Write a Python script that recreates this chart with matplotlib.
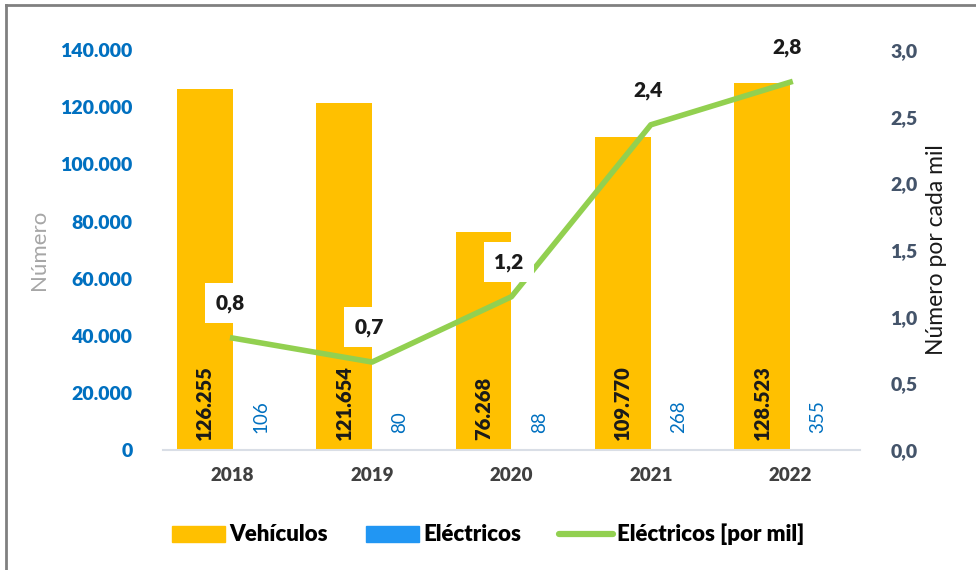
import matplotlib.pyplot as plt
from matplotlib.patches import Patch
from matplotlib.lines import Line2D
import numpy as np

plt.rcParams['font.family'] = ['Lato', 'DejaVu Sans']

# Datos
anios = ['2018', '2019', '2020', '2021', '2022']
vehiculos = [126255, 121654, 76268, 109770, 128523]
electricos = [106, 80, 88, 268, 355]
por_mil = [0.84, 0.66, 1.15, 2.44, 2.76]
etiquetas_mil = ['0,8', '0,7', '1,2', '2,4', '2,8']

amarillo = '#FFC000'
azul = '#2196F3'
verde = '#92D050'

fig = plt.figure(figsize=(9.76, 5.7), dpi=100)
ax = fig.add_axes([0.167, 0.2105, 0.714, 0.7015])
x = np.arange(len(anios))
ancho = 0.4

ax.bar(x - 0.2, vehiculos, ancho, color=amarillo, zorder=2)
ax.bar(x + 0.2, electricos, ancho, color=azul, zorder=2)

# etiquetas de las barras
for i in range(len(anios)):
    ax.text(x[i] - 0.2, 3500, f'{vehiculos[i]:,}'.replace(',', '.'), rotation=90,
            ha='center', va='bottom', fontsize=14.5, fontweight='heavy', color='#1a1a1a', zorder=3)
    ax.text(x[i] + 0.2, 6000, str(electricos[i]), rotation=90,
            ha='center', va='bottom', fontsize=13.5, color='#0070C0', zorder=3)

ax.set_xlim(-0.5, 4.5)
ax.set_ylim(0, 140000)
ax.set_yticks(range(0, 140001, 20000))
ax.set_yticklabels(['0'] + [f'{v:,}'.replace(',', '.') for v in range(20000, 140001, 20000)],
                   fontsize=14, fontweight='heavy', color='#0070C0')
ax.set_xticks(x)
ax.set_xticklabels(anios, fontsize=13.5, fontweight='heavy', color='#404040')
ax.tick_params(length=0, pad=12)
ax.tick_params(axis='y', pad=22)
for s in ['top', 'right', 'left']:
    ax.spines[s].set_visible(False)
ax.spines['bottom'].set_color('#D9DEE6')
ax.spines['bottom'].set_linewidth(1.5)
ax.set_ylabel('Número', fontsize=16, color='#A6A6A6', labelpad=8)

# eje secundario
ax2 = ax.twinx()
ax2.plot(x, por_mil, color=verde, linewidth=4, zorder=4)
ax2.set_ylim(0, 3.0)
ax2.set_yticks(np.arange(0, 3.01, 0.5))
ax2.set_yticklabels([f'{v:.1f}'.replace('.', ',') for v in np.arange(0, 3.01, 0.5)],
                    fontsize=14, fontweight='heavy', color='#44546A')
ax2.tick_params(length=0, pad=22)
for s in ['top', 'right', 'left', 'bottom']:
    ax2.spines[s].set_visible(False)
ax2.set_ylabel('Número por cada mil', fontsize=16.5, color='#1a1a1a', labelpad=6)

for i in range(len(anios)):
    ax2.annotate(etiquetas_mil[i], (x[i], por_mil[i]), xytext=(-2, 25), textcoords='offset points',
                 ha='center', va='center', fontsize=15, fontweight='heavy', color='#1a1a1a',
                 bbox=dict(boxstyle='square,pad=0.5', fc='white', ec='none'), zorder=5)

# leyenda
handles = [Patch(color=amarillo, label='Vehículos'),
           Patch(color=azul, label='Eléctricos'),
           Line2D([0], [0], color=verde, linewidth=4.5, solid_capstyle='round', label='Eléctricos [por mil]')]
fig.legend(handles=handles, loc='center', bbox_to_anchor=(0.5, 0.062), ncol=3, frameon=False,
           prop={'size': 16, 'weight': 'heavy'}, handlelength=2.4, handleheight=0.75,
           columnspacing=1.7, handletextpad=0.2)

# borde
fig.add_artist(Line2D([0.006, 0.006], [0, 0.991], color='#808080', linewidth=2, transform=fig.transFigure))
fig.add_artist(Line2D([0.006, 1], [0.991, 0.991], color='#808080', linewidth=2, transform=fig.transFigure))

fig.savefig('out.png', dpi=100)
